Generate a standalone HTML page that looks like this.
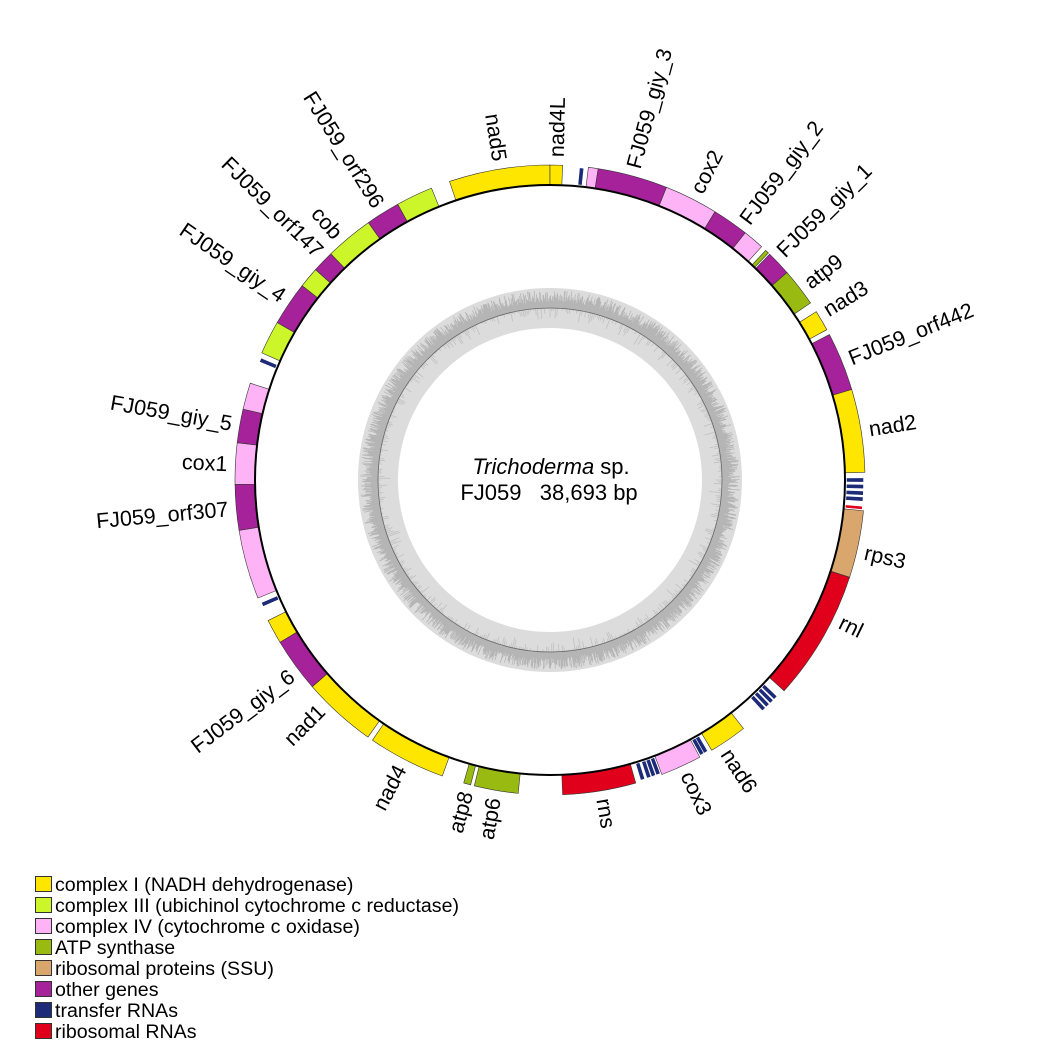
<!DOCTYPE html>
<html><head><meta charset="utf-8">
<style>
html,body{margin:0;padding:0;background:#fff;}
svg{display:block;font-family:"Liberation Sans",Arial,sans-serif;}
</style></head>
<body>
<svg id="s" width="1062" height="1062" viewBox="0 0 1062 1062" xmlns="http://www.w3.org/2000/svg">
<rect width="1062" height="1062" fill="#fff"/>
<g id="gc"></g>
<g id="genes"></g>
<circle cx="550" cy="480" r="295" fill="none" stroke="#000" stroke-width="2"/>
<g font-size="21.5" fill="#000" dominant-baseline="central">
<text x="873" y="480" transform="rotate(-88.8 550 480)">nad4L</text>
<text x="873" y="480" transform="rotate(-75 550 480)">FJ059_giy_3</text>
<text x="873" y="480" transform="rotate(-63 550 480)">cox2</text>
<text x="873" y="480" transform="rotate(-53 550 480)">FJ059_giy_2</text>
<text x="873" y="480" transform="rotate(-44.5 550 480)">FJ059_giy_1</text>
<text x="873" y="480" transform="rotate(-37.3 550 480)">atp9</text>
<text x="873" y="480" transform="rotate(-31.5 550 480)">nad3</text>
<text x="873" y="480" transform="rotate(-22 550 480)">FJ059_orf442</text>
<text x="873" y="480" transform="rotate(-9 550 480)">nad2</text>
<text x="873" y="480" transform="rotate(13 550 480)">rps3</text>
<text x="873" y="480" transform="rotate(26 550 480)">rnl</text>
<text x="873" y="480" transform="rotate(57 550 480)">nad6</text>
<text x="873" y="480" transform="rotate(65 550 480)">cox3</text>
<text x="873" y="480" transform="rotate(80.5 550 480)">rns</text>
<g text-anchor="end">
<text x="227" y="480" transform="rotate(-80 550 480)">atp6</text>
<text x="227" y="480" transform="rotate(-75 550 480)">atp8</text>
<text x="227" y="480" transform="rotate(-62.5 550 480)">nad4</text>
<text x="227" y="480" transform="rotate(-45 550 480)">nad1</text>
<text x="227" y="480" transform="rotate(-37 550 480)">FJ059_giy_6</text>
<text x="227" y="480" transform="rotate(-5.2 550 480)">FJ059_orf307</text>
<text x="227" y="480" transform="rotate(2.8 550 480)">cox1</text>
<text x="227" y="480" transform="rotate(10 550 480)">FJ059_giy_5</text>
<text x="227" y="480" transform="rotate(34.4 550 480)">FJ059_giy_4</text>
<text x="227" y="480" transform="rotate(44.5 550 480)">FJ059_orf147</text>
<text x="227" y="480" transform="rotate(49 550 480)">cob</text>
<text x="227" y="480" transform="rotate(58 550 480)">FJ059_orf296</text>
<text x="227" y="480" transform="rotate(81 550 480)">nad5</text>
</g>
</g>
<g font-size="22" text-anchor="middle">
<text x="551" y="474"><tspan font-style="italic">Trichoderma</tspan> sp.</text>
<text x="549" y="500" xml:space="preserve">FJ059   38,693 bp</text>
</g>
<g stroke="#333" stroke-width="1">
<rect x="35.5" y="876.5" width="16" height="15" fill="#ffe600"/>
<rect x="35.5" y="897.5" width="16" height="15" fill="#ccf52a"/>
<rect x="35.5" y="918.5" width="16" height="15" fill="#ffb3f7"/>
<rect x="35.5" y="939.5" width="16" height="15" fill="#99bb11"/>
<rect x="35.5" y="960.5" width="16" height="15" fill="#d9a66e"/>
<rect x="35.5" y="981.5" width="16" height="15" fill="#a6229a"/>
<rect x="35.5" y="1002.5" width="16" height="15" fill="#1c2a78"/>
<rect x="35.5" y="1023.5" width="16" height="15" fill="#e0001b"/>
</g>
<g font-size="19.6" fill="#000">
<text x="55" y="891">complex I (NADH dehydrogenase)</text>
<text x="55" y="912">complex III (ubichinol cytochrome c reductase)</text>
<text x="55" y="933">complex IV (cytochrome c oxidase)</text>
<text x="55" y="954">ATP synthase</text>
<text x="55" y="975">ribosomal proteins (SSU)</text>
<text x="55" y="996">other genes</text>
<text x="55" y="1017">transfer RNAs</text>
<text x="55" y="1038">ribosomal RNAs</text>
</g>
</svg>
<script>
(function(){
var NS="http://www.w3.org/2000/svg",cx=550,cy=480;
function pt(r,a){var t=a*Math.PI/180;return [cx+r*Math.sin(t),cy-r*Math.cos(t)];}
function sector(r1,r2,a1,a2){
 var p1=pt(r2,a1),p2=pt(r2,a2),p3=pt(r1,a2),p4=pt(r1,a1),l=(a2-a1)>180?1:0;
 return "M"+p1+" A"+r2+" "+r2+" 0 "+l+" 1 "+p2+" L"+p3+" A"+r1+" "+r1+" 0 "+l+" 0 "+p4+"Z";}
function add(g,tag,at){var e=document.createElementNS(NS,tag);for(var k in at)e.setAttribute(k,at[k]);g.appendChild(e);return e;}
var gc=document.getElementById("gc");
add(gc,"path",{d:sector(152,192,0,359.99),fill:"#dcdcdc"});
var seed=7;function rnd(){seed=(seed*9301+49297)%233280;return seed/233280;}
var d="";
for(var i=0;i<1800;i++){var a=i*0.2;var h=6+rnd()*12;var p=pt(172,a),q=pt(172+h,a);d+="M"+p+"L"+q;}
add(gc,"path",{d:d,stroke:"#b5b5b5","stroke-width":"0.8",fill:"none"});
d="";
for(var i=0;i<600;i++){var a=i*0.6;var h=rnd()*rnd()*14;var p=pt(172,a),q=pt(172-h,a);d+="M"+p+"L"+q;}
add(gc,"path",{d:d,stroke:"#c0c0c0","stroke-width":"0.8",fill:"none"});
add(gc,"circle",{cx:cx,cy:cy,r:172,fill:"none",stroke:"#666","stroke-width":"0.8"});
var Y="#ffe600",G3="#ccf52a",P="#ffb3f7",A="#99bb11",R="#d9a66e",O="#a6229a",T="#1c2a78",RR="#e0001b";
var genes=[[341.4,360,Y],[0,2.3,Y],[7,8.8,P],[8.8,21.7,O],[21.7,31.6,P],[31.6,38.3,O],[38.3,42.2,P],[43.2,43.9,A],
[44.2,48.8,O],[48.8,55.8,A],[57.7,61.5,Y],[62.5,73.3,O],[73.3,88.6,Y],[95.6,108,R],[108,132,RR],[142.1,149.1,Y],
[151.6,159.2,P],[164.2,177.7,RR],[185.8,193.9,A],[194.6,195.9,A],[200,214.3,Y],[215.3,229,Y],[229,239,O],[239,243.5,Y],
[248,260.8,P],[260.8,269.2,O],[269.2,276.8,P],[276.8,283,O],[283,287.9,P],[293.8,300,G3],[300,308.1,O],[308.1,311.9,G3],
[311.9,315.9,O],[315.9,324.8,G3],[324.8,331.1,O],[331.1,337.9,G3]];
var g=document.getElementById("genes");
genes.forEach(function(x){add(g,"path",{d:sector(295,315,x[0],x[1]),fill:x[2],stroke:"#333","stroke-width":"0.6"});});
var trna=[5.8,246.6,292.5,90,91.2,92.4,93.5,134,135,136,137,150.2,151,159.8,160.7,161.6,162.8];
trna.forEach(function(a){add(g,"path",{d:sector(297,313,a-0.28,a+0.28),fill:T,stroke:T,"stroke-width":"0.6"});});
add(g,"path",{d:sector(297,313,94.9,95.3),fill:RR,stroke:RR,"stroke-width":"0.5"});
})();
</script>
</body></html>
